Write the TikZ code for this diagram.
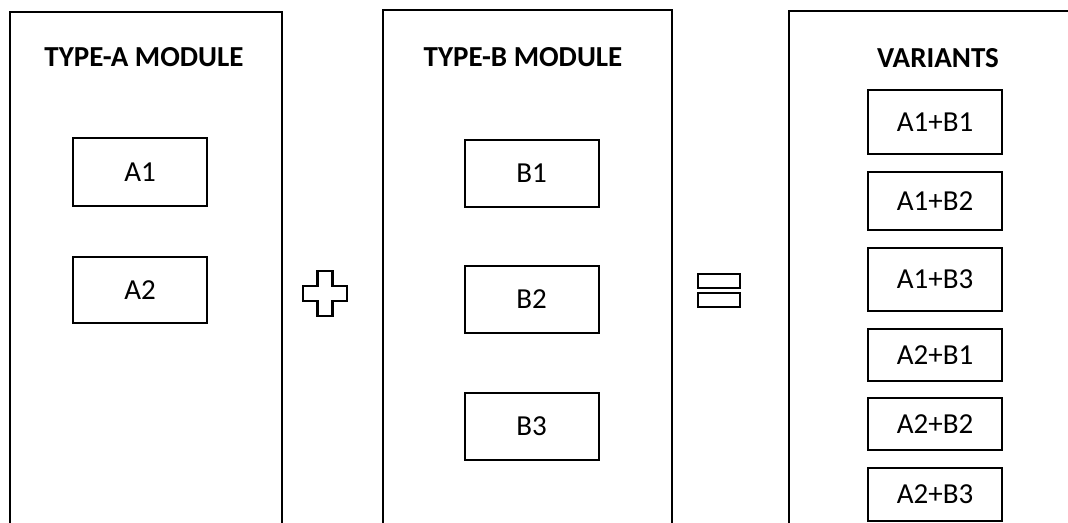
\documentclass[tikz,border=0pt]{standalone}
\usepackage{fontspec}
\setmainfont{Carlito}
\usetikzlibrary{positioning}

\begin{document}
\begin{tikzpicture}[
  x=1pt, y=-1pt,
  panel/.style={draw, line width=2.2pt, anchor=north west, inner sep=0pt, minimum height=600pt},
  title/.style={font=\fontsize{29}{34}\selectfont\bfseries},
  item/.style={draw, line width=2pt, minimum width=134pt, inner sep=0pt, font=\fontsize{29}{34}\selectfont},
  sign/.style={line width=2.6pt, line join=miter}
]
\useasboundingbox (0,0) rectangle (1068,522);
\clip (0,0) rectangle (1068,522);

% three panels, open at the bottom
\node[panel, minimum width=272pt] (modA) at (9,11) {};
\node[panel, minimum width=289pt] (modB) at (382,9) {};
\node[panel, minimum width=289pt] (vars) at (788,10) {};

\node[title] (titleA) at (144,57) {TYPE-A MODULE};
\node[title] (titleB) at (523,57) {TYPE-B MODULE};
\node[title] (titleC) at (938,58) {VARIANTS};

% modules
\node[item, minimum height=68pt] (a1) at (140,172) {A1};
\node[item, minimum height=66pt] (a2) at (140,290) {A2};
\node[item, minimum height=67pt] (b1) at (531.5,173.5) {B1};
\node[item, minimum height=67pt] (b2) at (531.5,299.5) {B2};
\node[item, minimum height=67pt] (b3) at (531.5,426) {B3};

% combinations
\node[item, minimum height=64pt] (v11) at (935,122) {A1+B1};
\node[item, minimum height=58pt] (v12) at (935,201) {A1+B2};
\node[item, minimum height=63pt] (v13) at (935,279.5) {A1+B3};
\node[item, minimum height=52pt] (v21) at (935,355) {A2+B1};
\node[item, minimum height=52pt] (v22) at (935,424) {A2+B2};
\node[item, minimum height=53pt] (v23) at (935,494.5) {A2+B3};

% plus and equals signs
\coordinate (plus) at (325,293.5);
\draw[sign] (plus) ++(-7.5,-22.5) -- ++(15,0) -- ++(0,15) -- ++(14.5,0) -- ++(0,15)
  -- ++(-14.5,0) -- ++(0,15) -- ++(-15,0) -- ++(0,-15) -- ++(-14.5,0)
  -- ++(0,-15) -- ++(14.5,0) -- cycle;
\coordinate (equals) at (719,290.5);
\draw[sign] (equals) ++(-21,-16.5) rectangle ++(42,14);
\draw[sign] (equals) ++(-21,2.5) rectangle ++(42,14);
\end{tikzpicture}
\end{document}
